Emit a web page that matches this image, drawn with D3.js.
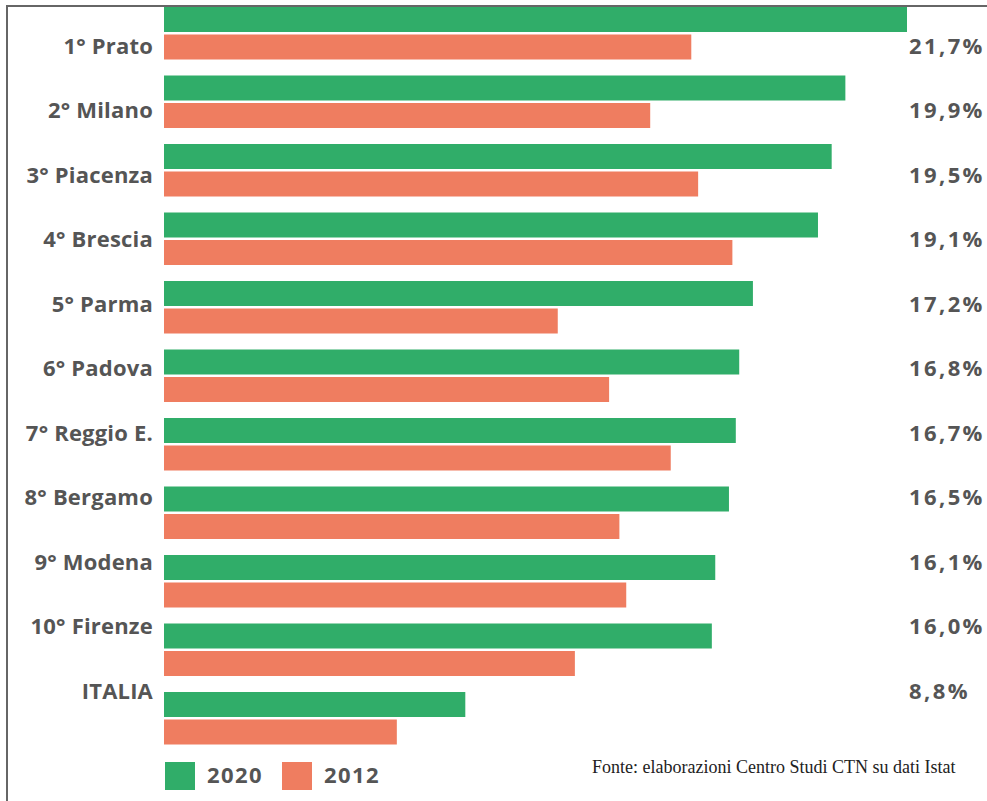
<!DOCTYPE html>
<html>
<head>
<meta charset="utf-8">
<script src="https://cdn.jsdelivr.net/npm/d3@7"></script>
<style>
  html, body { margin: 0; padding: 0; background: #fff; }
  svg { display: block; }
</style>
</head>
<body>
<div id="chart"></div>
<script>
// Province ranking: share (%) for 2020 and 2012
const categories = ["1° Prato", "2° Milano", "3° Piacenza", "4° Brescia", "5° Parma",
  "6° Padova", "7° Reggio E.", "8° Bergamo", "9° Modena", "10° Firenze", "ITALIA"];
const values2020 = [21.7, 19.9, 19.5, 19.1, 17.2, 16.8, 16.7, 16.5, 16.1, 16.0, 8.8];
const values2012 = [15.4, 14.2, 15.6, 16.6, 11.5, 13.0, 14.8, 13.3, 13.5, 12.0, 6.8];
const seriesNames = ["2020", "2012"];
const valueLabels = values2020.map(v => d3.format(".1f")(v).replace(".", ",") + "%");
const sourceText = "Fonte: elaborazioni Centro Studi CTN su dati Istat";

const W = 987, H = 801;
const colors = { "2020": "#30ad69", "2012": "#ef7d60" };
const textColor = "#555555";
const labelFont = "'Open Sans', 'Noto Sans', sans-serif";

const svg = d3.select("#chart").append("svg")
  .attr("width", W).attr("height", H);

// frame: top and left rules
svg.append("line").attr("x1", 7).attr("x2", W).attr("y1", 6).attr("y2", 6)
  .attr("stroke", "#666").attr("stroke-width", 2);
svg.append("line").attr("x1", 7).attr("x2", 7).attr("y1", 5).attr("y2", H)
  .attr("stroke", "#666").attr("stroke-width", 2);

const x = d3.scaleLinear().domain([0, 21.7]).range([164, 907]);

const y = d3.scaleBand().domain(categories)
  .range([7, 744.5]).paddingInner(16 / 68.5).paddingOuter(0);

const ySub = d3.scaleBand().domain(seriesNames)
  .range([0, y.bandwidth()]).paddingInner(0.0909);

// text rows run on their own evenly spaced baselines
const yText = d3.scalePoint().domain(categories).range([53.5, 699]);

const rows = categories.map((c, i) => ({
  cat: c,
  vals: [{ s: "2020", v: values2020[i] }, { s: "2012", v: values2012[i] }],
  label: valueLabels[i]
}));

const g = svg.append("g");
const grp = g.selectAll("g.row").data(rows).join("g")
  .attr("class", "row")
  .attr("transform", d => `translate(0,${y(d.cat)})`);

grp.selectAll("rect").data(d => d.vals).join("rect")
  .attr("x", x(0))
  .attr("y", d => ySub(d.s))
  .attr("width", d => x(d.v) - x(0))
  .attr("height", ySub.bandwidth())
  .attr("fill", d => colors[d.s]);

// category labels
svg.selectAll("text.cat").data(rows).join("text")
  .attr("class", "cat")
  .attr("x", 153)
  .attr("y", d => yText(d.cat))
  .attr("text-anchor", "end")
  .attr("font-family", labelFont)
  .attr("font-weight", 700)
  .attr("font-size", 22)
  .attr("letter-spacing", 0.2)
  .attr("fill", textColor)
  .text(d => d.cat);

// value labels (2020)
svg.selectAll("text.val").data(rows).join("text")
  .attr("class", "val")
  .attr("x", 909)
  .attr("y", d => yText(d.cat))
  .attr("font-family", labelFont)
  .attr("font-weight", 700)
  .attr("font-size", 22)
  .attr("letter-spacing", 2.4)
  .attr("fill", textColor)
  .text(d => d.label);

// legend
const legendItems = [{ s: "2020", x: 165 }, { s: "2012", x: 282 }];
const lg = svg.selectAll("g.leg").data(legendItems).join("g")
  .attr("class", "leg")
  .attr("transform", d => `translate(${d.x},762)`);
lg.append("rect").attr("width", 30).attr("height", 28)
  .attr("fill", d => colors[d.s]);
lg.append("text").attr("x", 42).attr("y", 21)
  .attr("font-family", labelFont)
  .attr("font-weight", 700)
  .attr("font-size", 22)
  .attr("letter-spacing", 1.4)
  .attr("fill", textColor)
  .text(d => d.s);

// source note
svg.append("text")
  .attr("x", 592).attr("y", 773)
  .attr("font-family", "'Liberation Serif', 'DejaVu Serif', serif")
  .attr("font-size", 18)
  .attr("fill", "#222")
  .text(sourceText);
</script>
</body>
</html>
